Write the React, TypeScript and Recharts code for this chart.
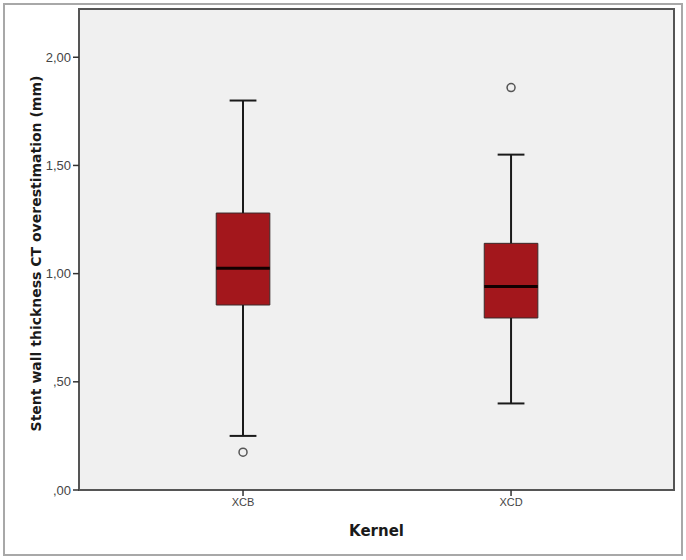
import {
  ComposedChart,
  XAxis,
  YAxis,
  Scatter,
  ReferenceArea,
  ReferenceLine,
  Label,
} from "recharts"

const categories = ["XCB", "XCD"]
const positions = [1, 2]
const whiskerLow = [0.25, 0.4]
const q1 = [0.855, 0.795]
const median = [1.025, 0.94]
const q3 = [1.28, 1.14]
const whiskerHigh = [1.8, 1.55]
const outlierX = [1, 2]
const outlierY = [0.175, 1.86]

const yTicks = [0, 0.5, 1, 1.5, 2]
const yTickLabels = [",00", ",50", "1,00", "1,50", "2,00"]

const X_DOMAIN: [number, number] = [0.388, 2.608]
const Y_DOMAIN: [number, number] = [0, 2.223]
/** box half-width / whisker cap half-width, in x units (1 unit ≈ 268px) */
const BOX_HALF = 0.1
const CAP_HALF = 0.05

const outliers = outlierX.map((x, i) => ({ x, y: outlierY[i] }))

const TEXT = "#444"

export default function App() {
  return (
    <div style={{ position: "absolute", left: 0, top: 0, width: 686, height: 560, background: "#fff" }}>
      <div
        style={{
          position: "absolute",
          left: 3,
          top: 3,
          width: 680,
          height: 553,
          boxSizing: "border-box",
          border: "2px solid #a8a8a8",
        }}
      />
      <div style={{ position: "absolute", left: 0, top: 0 }}>
        <ComposedChart width={686} height={560} margin={{ top: 9, right: 12, bottom: 0, left: 0 }}>
          <XAxis
            type="number"
            dataKey="x"
            domain={X_DOMAIN}
            allowDataOverflow
            ticks={positions}
            tickFormatter={(v: number) => categories[positions.indexOf(v)] ?? ""}
            tick={{ fill: TEXT, fontSize: 11, fontFamily: "Liberation Sans, Arial, sans-serif" }}
            tickLine={{ stroke: "#333", strokeWidth: 1.5 }}
            tickSize={6}
            axisLine={false}
            height={70}
          >
            <Label
              value="Kernel"
              position="center"
              dy={6}
              style={{ fontFamily: "DejaVu Sans", fontWeight: 700, fontSize: 15, fill: "#1a1a1a" }}
            />
          </XAxis>
          <YAxis
            type="number"
            dataKey="y"
            domain={Y_DOMAIN}
            allowDataOverflow
            ticks={yTicks}
            tickFormatter={(v: number) => yTickLabels[yTicks.indexOf(v)] ?? ""}
            tick={{ fill: TEXT, fontSize: 13, fontFamily: "Liberation Sans, Arial, sans-serif" }}
            tickLine={{ stroke: "#333", strokeWidth: 1.5 }}
            tickSize={6}
            tickMargin={2}
            axisLine={false}
            width={79}
          >
            <Label
              value="Stent wall thickness CT overestimation (mm)"
              angle={-90}
              position="center"
              dx={-3}
              dy={4}
              style={{ fontFamily: "DejaVu Sans", fontWeight: 700, fontSize: 14, fill: "#1a1a1a" }}
            />
          </YAxis>

          {/* plot background + frame */}
          <ReferenceArea
            x1={X_DOMAIN[0]}
            x2={X_DOMAIN[1]}
            y1={Y_DOMAIN[0]}
            y2={Y_DOMAIN[1]}
            fill="#f0f0f0"
            fillOpacity={1}
            stroke="#555"
            strokeWidth={2}
          />

          {positions.map((p, i) => (
            <ReferenceLine
              key={`wl-${i}`}
              segment={[{ x: p, y: whiskerLow[i] }, { x: p, y: q1[i] }]}
              stroke="#1a1a1a"
              strokeWidth={2}
            />
          ))}
          {positions.map((p, i) => (
            <ReferenceLine
              key={`wh-${i}`}
              segment={[{ x: p, y: q3[i] }, { x: p, y: whiskerHigh[i] }]}
              stroke="#1a1a1a"
              strokeWidth={2}
            />
          ))}
          {positions.map((p, i) => (
            <ReferenceLine
              key={`cl-${i}`}
              segment={[{ x: p - CAP_HALF, y: whiskerLow[i] }, { x: p + CAP_HALF, y: whiskerLow[i] }]}
              stroke="#1a1a1a"
              strokeWidth={2}
            />
          ))}
          {positions.map((p, i) => (
            <ReferenceLine
              key={`ch-${i}`}
              segment={[{ x: p - CAP_HALF, y: whiskerHigh[i] }, { x: p + CAP_HALF, y: whiskerHigh[i] }]}
              stroke="#1a1a1a"
              strokeWidth={2}
            />
          ))}
          {positions.map((p, i) => (
            <ReferenceArea
              key={`box-${i}`}
              x1={p - BOX_HALF}
              x2={p + BOX_HALF}
              y1={q1[i]}
              y2={q3[i]}
              fill="#a3171c"
              fillOpacity={1}
              stroke="#3a2a2a"
              strokeWidth={1}
            />
          ))}
          {positions.map((p, i) => (
            <ReferenceLine
              key={`md-${i}`}
              segment={[{ x: p - BOX_HALF, y: median[i] }, { x: p + BOX_HALF, y: median[i] }]}
              stroke="#120000"
              strokeWidth={3}
            />
          ))}

          <Scatter
            data={outliers}
            isAnimationActive={false}
            shape={(props: any) => (
              <circle cx={props.cx} cy={props.cy} r={4} fill="none" stroke="#555" strokeWidth={1.5} />
            )}
          />
        </ComposedChart>
      </div>
    </div>
  )
}
